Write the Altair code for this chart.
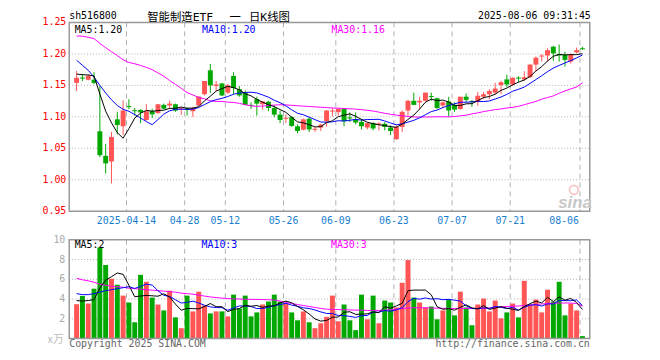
import altair as alt
import pandas as pd

DATES = [
    "2025-03-31", "2025-04-01", "2025-04-02", "2025-04-03", "2025-04-07", "2025-04-08", "2025-04-09", "2025-04-10", "2025-04-11",
    "2025-04-14", "2025-04-15", "2025-04-16", "2025-04-17", "2025-04-18",
    "2025-04-21", "2025-04-22", "2025-04-23", "2025-04-24", "2025-04-25",
    "2025-04-28", "2025-04-29", "2025-04-30",
    "2025-05-06", "2025-05-07", "2025-05-08", "2025-05-09",
    "2025-05-12", "2025-05-13", "2025-05-14", "2025-05-15", "2025-05-16",
    "2025-05-19", "2025-05-20", "2025-05-21", "2025-05-22", "2025-05-23",
    "2025-05-26", "2025-05-27", "2025-05-28", "2025-05-29", "2025-05-30",
    "2025-06-03", "2025-06-04", "2025-06-05", "2025-06-06",
    "2025-06-09", "2025-06-10", "2025-06-11", "2025-06-12", "2025-06-13",
    "2025-06-16", "2025-06-17", "2025-06-18", "2025-06-19", "2025-06-20",
    "2025-06-23", "2025-06-24", "2025-06-25", "2025-06-26", "2025-06-27",
    "2025-06-30", "2025-07-01", "2025-07-02", "2025-07-03", "2025-07-04",
    "2025-07-07", "2025-07-08", "2025-07-09", "2025-07-10", "2025-07-11",
    "2025-07-14", "2025-07-15", "2025-07-16", "2025-07-17", "2025-07-18",
    "2025-07-21", "2025-07-22", "2025-07-23", "2025-07-24", "2025-07-25",
    "2025-07-28", "2025-07-29", "2025-07-30", "2025-07-31", "2025-08-01",
    "2025-08-04", "2025-08-05", "2025-08-06",
]

OPEN = [1.154, 1.1625, 1.159, 1.159, 1.077, 1.038, 1.029, 1.096, 1.085, 1.117,
        1.1105, 1.111, 1.095, 1.109, 1.106, 1.119, 1.118, 1.120, 1.1115, 1.1135,
        1.109, 1.118, 1.136, 1.174, 1.149, 1.153, 1.1385, 1.165, 1.144, 1.1385,
        1.119, 1.128, 1.120, 1.124, 1.114, 1.1035, 1.097, 1.0995, 1.085, 1.0795,
        1.097, 1.0795, 1.083, 1.093, 1.109, 1.1075, 1.1125, 1.099, 1.0965, 1.092,
        1.083, 1.090, 1.088, 1.089, 1.083, 1.0645, 1.084, 1.110, 1.1255, 1.123,
        1.1255, 1.133, 1.1295, 1.118, 1.1245, 1.119, 1.1125, 1.132, 1.125, 1.1245,
        1.132, 1.136, 1.1385, 1.1505, 1.1595, 1.1515, 1.1625, 1.1595, 1.163, 1.183,
        1.1965, 1.1975, 1.2115, 1.200, 1.1985, 1.188, 1.2025, 1.209]
HIGH = [1.173, 1.168, 1.168, 1.171, 1.149, 1.057, 1.076, 1.108, 1.126, 1.128,
        1.114, 1.112, 1.120, 1.113, 1.120, 1.121, 1.126, 1.121, 1.116, 1.115,
        1.116, 1.133, 1.157, 1.184, 1.157, 1.154, 1.1525, 1.171, 1.149, 1.142,
        1.123, 1.132, 1.1255, 1.1255, 1.118, 1.110, 1.1035, 1.101, 1.088, 1.097,
        1.0995, 1.084, 1.089, 1.111, 1.114, 1.114, 1.114, 1.107, 1.107, 1.0965,
        1.0915, 1.0915, 1.0915, 1.0915, 1.0865, 1.0865, 1.110, 1.127, 1.1385, 1.132,
        1.1385, 1.1385, 1.1305, 1.1245, 1.132, 1.123, 1.132, 1.137, 1.127, 1.1395,
        1.1395, 1.144, 1.154, 1.157, 1.167, 1.163, 1.1645, 1.1725, 1.184, 1.196,
        1.1995, 1.209, 1.213, 1.215, 1.2035, 1.201, 1.210, 1.2115]
LOW = [1.141, 1.157, 1.158, 1.152, 1.036, 1.010, 0.994, 1.072, 1.071, 1.112,
       1.102, 1.090, 1.094, 1.098, 1.105, 1.112, 1.114, 1.108, 1.103, 1.102,
       1.100, 1.116, 1.134, 1.138, 1.141, 1.133, 1.136, 1.136, 1.132, 1.118,
       1.1125, 1.102, 1.1115, 1.109, 1.0995, 1.090, 1.090, 1.084, 1.0735, 1.0785,
       1.076, 1.076, 1.0775, 1.084, 1.1005, 1.102, 1.085, 1.0915, 1.088, 1.080,
       1.080, 1.0785, 1.0785, 1.0785, 1.071, 1.063, 1.076, 1.102, 1.119, 1.1125,
       1.1245, 1.1255, 1.1125, 1.114, 1.1005, 1.108, 1.1115, 1.123, 1.116, 1.1175,
       1.128, 1.128, 1.136, 1.136, 1.1475, 1.149, 1.1555, 1.157, 1.162, 1.1725,
       1.188, 1.188, 1.189, 1.188, 1.180, 1.1845, 1.201, 1.2065]
CLOSE = [1.162, 1.1615, 1.165, 1.154, 1.039, 1.026, 1.068, 1.087, 1.110, 1.1155,
         1.1095, 1.107, 1.109, 1.104, 1.120, 1.113, 1.121, 1.110, 1.1135, 1.111,
         1.114, 1.132, 1.157, 1.150, 1.1515, 1.134, 1.150, 1.146, 1.134, 1.119,
         1.118, 1.121, 1.1245, 1.114, 1.1035, 1.095, 1.0985, 1.0855, 1.0775, 1.096,
         1.080, 1.081, 1.0875, 1.110, 1.110, 1.1125, 1.093, 1.098, 1.091, 1.085,
         1.090, 1.0815, 1.0895, 1.084, 1.0775, 1.084, 1.108, 1.1255, 1.119, 1.1255,
         1.1385, 1.132, 1.114, 1.123, 1.110, 1.1115, 1.132, 1.127, 1.1245, 1.1335,
         1.136, 1.141, 1.145, 1.155, 1.1515, 1.162, 1.162, 1.163, 1.183, 1.194,
         1.1975, 1.206, 1.201, 1.1975, 1.1905, 1.1995, 1.206, 1.208]
VOLUME = [3.48, 4.32, 3.55, 5.05, 9.22, 7.45, 6.05, 5.45, 4.35, 3.65,
          1.65, 6.45, 5.75, 4.15, 3.45, 2.85, 4.85, 2.15, 1.05, 4.35,
          2.75, 4.75, 3.35, 2.55, 2.75, 2.75, 2.25, 4.45, 3.05, 4.35,
          2.25, 2.65, 3.45, 3.75, 4.45, 3.75, 3.55, 2.65, 1.85, 2.75,
          1.65, 1.05, 1.55, 2.2, 4.35, 1.75, 3.45, 1.85, 0.85, 4.45,
          1.95, 4.35, 1.55, 3.85, 3.65, 3.15, 5.65, 7.95, 4.15, 3.65,
          3.15, 3.25, 1.95, 2.85, 3.95, 2.35, 4.75, 3.15, 1.35, 3.45,
          4.05, 2.75, 3.85, 2.05, 2.65, 3.55, 2.15, 5.85, 3.45, 3.95,
          2.65, 4.95, 3.75, 5.75, 2.35, 3.55, 2.85, 0.25]

MA5_HEAD = [1.168, 1.167, 1.1665, 1.165]
MA10_HEAD = [1.190, 1.182, 1.174, 1.163, 1.150, 1.138, 1.127, 1.118, 1.112]
MA30 = [1.2286, 1.2282, 1.2265, 1.2245, 1.2167, 1.21, 1.2036, 1.1974, 1.1906, 1.1865,
        1.1844, 1.1818, 1.1786, 1.175, 1.1698, 1.1646, 1.1578, 1.1516, 1.1453, 1.1385,
        1.1349, 1.1307, 1.1286, 1.1255, 1.1245, 1.1245, 1.1234, 1.1229, 1.1214, 1.1193,
        1.1175, 1.1167, 1.1172, 1.1180, 1.1187, 1.1193, 1.1190, 1.1183, 1.1177, 1.1170,
        1.1164, 1.1159, 1.1153, 1.1147, 1.1141, 1.1137, 1.1133, 1.1128, 1.1123, 1.1114,
        1.1104, 1.1092, 1.1075, 1.1056, 1.104, 1.1028, 1.1016, 1.1007, 1.0998, 1.0996,
        1.0997, 1.0999, 1.1001, 1.1002, 1.1, 1.1005, 1.1016, 1.1026, 1.1047, 1.1063,
        1.1083, 1.1099, 1.1115, 1.1125, 1.1141, 1.1151, 1.1167, 1.1193, 1.1219, 1.1245,
        1.1281, 1.1307, 1.1333, 1.1375, 1.1411, 1.1445, 1.1474, 1.1540]
VMA5_HEAD = [3.85, 3.8, 3.85, 3.95]
VMA10_HEAD = [4.55, 4.45, 4.45, 4.55, 4.7, 4.85, 4.95, 5.05, 5.15]
VMA30 = [6.1, 5.95, 5.85, 5.7, 5.5, 5.4, 5.3, 5.25, 5.2, 5.1,
         5.05, 5.0, 4.95, 4.9, 4.85, 4.8, 4.75, 4.7, 4.6, 4.55,
         4.5, 4.4, 4.3, 4.22, 4.15, 4.1, 4.05, 4.02, 4.0, 3.98,
         3.97, 3.96, 3.95, 3.93, 3.9, 3.8, 3.65, 3.55, 3.45, 3.35,
         3.25, 3.15, 3.05, 2.98, 2.95, 2.93, 2.92, 2.9, 2.88, 2.88,
         2.85, 2.85, 2.85, 2.88, 2.92, 2.98, 3.05, 3.1, 3.12, 3.12,
         3.12, 3.1, 3.08, 3.07, 3.05, 3.05, 3.05, 3.05, 3.05, 3.05,
         3.05, 3.1, 3.15, 3.2, 3.25, 3.28, 3.3, 3.35, 3.4, 3.45,
         3.5, 3.55, 3.58, 3.6, 3.6, 3.6, 3.55, 3.3]

PRICE_TICKS = [1.25, 1.20, 1.15, 1.10, 1.05, 1.00, 0.95]
VOL_TICKS = [10, 8, 6, 4, 2]
DATE_TICKS = ["2025-04-14", "2025-04-28", "2025-05-12", "2025-05-26", "2025-06-09",
              "2025-06-23", "2025-07-07", "2025-07-21", "2025-08-06"]

TITLE_CODE = "sh516800"
TITLE_NAME = ["智能制造ETF", "一", "日K线图"]   # "智能制造ETF 一 日K线图"
TITLE_TIME = "2025-08-06 09:31:45"
MA_PRICE_LABELS = ["MA5:1.20", "MA10:1.20", "MA30:1.16"]
MA_VOL_LABELS = ["MA5:2", "MA10:3", "MA30:3"]

RED = "#ff5555"
GREEN = "#00a800"
MONO = "DejaVu Sans Mono"
CJK = "Noto Sans CJK SC"
MIXED = "DejaVu Sans Mono, Noto Sans CJK SC"

# ---------------------------------------------------------------- data
n = len(DATES)
df = pd.DataFrame({"i": range(n), "date": DATES, "o": OPEN, "h": HIGH,
                   "l": LOW, "c": CLOSE, "v": VOLUME, "ma30": MA30, "vma30": VMA30})
cs = pd.Series(CLOSE)
vs = pd.Series(VOLUME)
ma5 = cs.rolling(5).mean().tolist()
ma10 = cs.rolling(10).mean().tolist()
vma5 = vs.rolling(5).mean().tolist()
vma10 = vs.rolling(10).mean().tolist()
ma5[:len(MA5_HEAD)] = MA5_HEAD
ma10[:len(MA10_HEAD)] = MA10_HEAD
vma5[:len(VMA5_HEAD)] = VMA5_HEAD
vma10[:len(VMA10_HEAD)] = VMA10_HEAD
df["ma5"] = ma5
df["ma10"] = ma10
df["vma5"] = vma5
df["vma10"] = vma10
df["dir"] = ["up" if c >= o else "down" for o, c in zip(OPEN, CLOSE)]
df["btop"] = df[["o", "c"]].max(axis=1)
df["bbot"] = df[["o", "c"]].min(axis=1)
df["bbot"] = df[["bbot", "btop"]].apply(lambda r: min(r["bbot"], r["btop"] - 0.0016), axis=1)

tick_df = pd.DataFrame({"date": DATE_TICKS,
                        "label": [d if k == 0 else d[5:] for k, d in enumerate(DATE_TICKS)]})
tick_df["i"] = [DATES.index(d) - 0.4167 for d in DATE_TICKS]
price_df = pd.DataFrame({"p": PRICE_TICKS})
vol_df = pd.DataFrame({"v": VOL_TICKS})
one = pd.DataFrame({"a": [0]})

# ---------------------------------------------------------------- scales (chart coords = page - 8)
X0, X1 = 62, 589
PY0, PY1 = 203.5, 12.5
VY0, VY1 = 332.5, 232.5
xs = alt.Scale(domain=[-0.4167, n - 1 + 0.4167], range=[X0, X1], nice=False, zero=False)
ps = alt.Scale(domain=[0.95, 1.25], range=[PY0, PY1], nice=False, zero=False)
vsc = alt.Scale(domain=[0, 10], range=[VY0, VY1], nice=False, zero=False)
colr = alt.Color("dir:N", scale=alt.Scale(domain=["up", "down"], range=[RED, GREEN]), legend=None)
X = alt.X("i:Q", scale=xs, axis=None)

GRID = "#b0b0b0"
BORDER = "#999999"

layers = []
# grids
layers.append(alt.Chart(price_df[(price_df.p < 1.24) & (price_df.p > 0.96)]).mark_rule(
    color=GRID, strokeDash=[1, 2], strokeWidth=1).encode(
    y=alt.Y("p:Q", scale=ps, axis=None), x=alt.value(X0), x2=alt.value(X1)))
layers.append(alt.Chart(vol_df[vol_df.v < 10]).mark_rule(
    color=GRID, strokeDash=[1, 2], strokeWidth=1).encode(
    y=alt.Y("v:Q", scale=vsc, axis=None), x=alt.value(X0), x2=alt.value(X1)))
layers.append(alt.Chart(tick_df).mark_rule(color=GRID, strokeDash=[5, 4], strokeWidth=1).encode(
    x=X, y=alt.value(PY1), y2=alt.value(PY0)))
layers.append(alt.Chart(tick_df).mark_rule(color=GRID, strokeDash=[5, 4], strokeWidth=1).encode(
    x=X, y=alt.value(VY1), y2=alt.value(VY0)))

# candles
layers.append(alt.Chart(df).mark_rule(strokeWidth=1).encode(
    x=X, y=alt.Y("l:Q", scale=ps, axis=None), y2="h:Q", color=colr))
layers.append(alt.Chart(df).mark_bar(size=5).encode(
    x=X, y=alt.Y("bbot:Q", scale=ps, axis=None), y2="btop:Q", color=colr))
# price MAs
for field, col in [("ma30", "#ff00ff"), ("ma10", "#0000ff"), ("ma5", "#000000")]:
    layers.append(alt.Chart(df).mark_line(color=col, strokeWidth=1).encode(
        x=X, y=alt.Y(f"{field}:Q", scale=ps, axis=None)))
# volume
layers.append(alt.Chart(df).mark_bar(size=5).encode(
    x=X, y=alt.Y("v:Q", scale=vsc, axis=None), color=colr))
for field, col in [("vma30", "#ff00ff"), ("vma10", "#0000ff"), ("vma5", "#000000")]:
    layers.append(alt.Chart(df).mark_line(color=col, strokeWidth=1).encode(
        x=X, y=alt.Y(f"{field}:Q", scale=vsc, axis=None)))

# borders
for (ya, yb) in [(PY1, PY0), (VY1, VY0)]:
    layers.append(alt.Chart(one).mark_rect(fill=None, stroke=BORDER, strokeWidth=1.5).encode(
        x=alt.value(X0), x2=alt.value(X1), y=alt.value(ya), y2=alt.value(yb)))

# axis labels
layers.append(alt.Chart(price_df).mark_text(align="right", baseline="middle", font=MONO,
                                            fontSize=10, color="#ff0000").encode(
    y=alt.Y("p:Q", scale=ps, axis=None), x=alt.value(59), text=alt.Text("p:Q", format=".2f")))
layers.append(alt.Chart(vol_df).mark_text(align="right", baseline="middle", font=MONO,
                                          fontSize=10, color="#aaaaaa").encode(
    y=alt.Y("v:Q", scale=vsc, axis=None), x=alt.value(58), text=alt.Text("v:Q")))
layers.append(alt.Chart(tick_df.iloc[:-1]).mark_text(align="center", baseline="middle", font=MONO,
                                                     fontSize=10, color="#1a7fd0").encode(
    x=X, y=alt.value(213.5), text="label:N"))
layers.append(alt.Chart(tick_df.iloc[-1:]).mark_text(align="right", baseline="middle", font=MONO,
                                                     fontSize=10, color="#1a7fd0", dx=-1).encode(
    x=X, y=alt.value(213.5), text="label:N"))

# titles and legends
def txt(s, x, y, color="#000000", size=10, font=MONO, align="left", baseline="middle", **kw):
    return alt.Chart(one).mark_text(text=s, align=align, baseline=baseline, font=font,
                                    fontSize=size, color=color, **kw).encode(
        x=alt.value(x), y=alt.value(y))

layers.append(txt(TITLE_CODE, 62, 5.5))
layers.append(txt(TITLE_NAME[0], 141, 11, size=11.5, font=MIXED, baseline="alphabetic"))
layers.append(txt(TITLE_NAME[1], 230, 11, size=11.5, font=MIXED, align="center", baseline="alphabetic"))
layers.append(txt(TITLE_NAME[2], 244, 11, size=11.5, font=MIXED, baseline="alphabetic"))
layers.append(txt(TITLE_TIME, 590, 5.5, align="right"))
for s, x, c in zip(MA_PRICE_LABELS, [67.5, 196.5, 327.5], ["#000000", "#0000ff", "#ff00ff"]):
    layers.append(txt(s, x, 20.5, color=c))
for s, x, c in zip(MA_VOL_LABELS, [67.5, 196, 327], ["#000000", "#0000ff", "#ff00ff"]):
    layers.append(txt(s, x, 238, color=c))
layers.append(txt("x万", 40, 334, color="#bbbbbb", size=11, font=CJK))
layers.append(txt("Copyright 2025 SINA.COM", 62, 338, color="#666666"))
layers.append(txt("http://finance.sina.com.cn", 589, 338, color="#666666", align="right"))
layers.append(txt("sina", 574, 195, color="#c8c8c8", size=17, font="Liberation Sans",
                  align="center", fontStyle="italic", fontWeight="bold"))
layers.append(alt.Chart(one).mark_point(shape="circle", size=80, stroke="#f2b4b4",
                                        strokeWidth=2, filled=False).encode(
    x=alt.value(573), y=alt.value(182)))

chart = alt.layer(*layers).resolve_scale(y="independent").properties(
    width=652, height=352, autosize="none", padding=0, background="white"
).configure_view(stroke=None)

chart.save("out.html", embed_options={"renderer": "svg", "actions": False})
